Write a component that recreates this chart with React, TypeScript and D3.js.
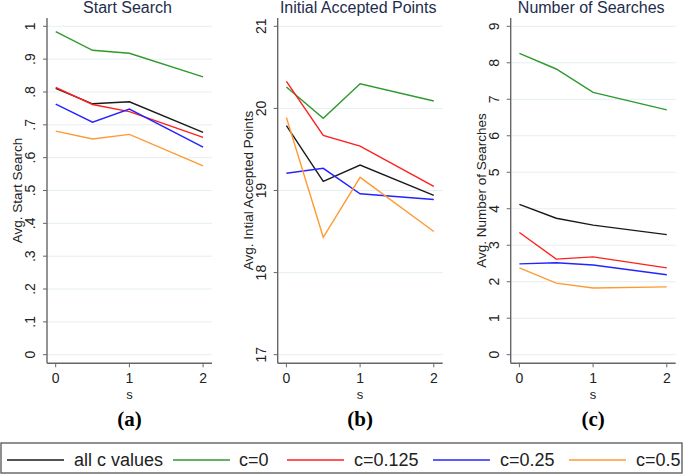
import React from "react";
import * as d3 from "d3";

const sValues = [0, 0.5, 1, 2];
const seriesNames = ["all c values", "c=0", "c=0.125", "c=0.25", "c=0.5"];
const seriesColors = ["#1a1a1a", "#2e9a2e", "#ff1f1f", "#2424ff", "#ff9a33"];

// Panel (a) Start Search
const startAll = [0.811, 0.764, 0.77, 0.677];
const startC0 = [0.984, 0.927, 0.918, 0.846];
const startC125 = [0.814, 0.762, 0.74, 0.662];
const startC25 = [0.763, 0.708, 0.748, 0.632];
const startC5 = [0.681, 0.657, 0.671, 0.575];
const startTicks = [0, 0.1, 0.2, 0.3, 0.4, 0.5, 0.6, 0.7, 0.8, 0.9, 1];
const startTickLabels = ["0", ".1", ".2", ".3", ".4", ".5", ".6", ".7", ".8", ".9", "1"];

// Panel (b) Initial Accepted Points
const pointsAll = [19.79, 19.11, 19.31, 18.94];
const pointsC0 = [20.26, 19.88, 20.3, 20.09];
const pointsC125 = [20.33, 19.67, 19.54, 19.05];
const pointsC25 = [19.21, 19.27, 18.96, 18.89];
const pointsC5 = [19.89, 18.43, 19.16, 18.5];
const pointsTicks = [17, 18, 19, 20, 21];
const pointsTickLabels = ["17", "18", "19", "20", "21"];

// Panel (c) Number of Searches
const searchAll = [4.12, 3.74, 3.55, 3.29];
const searchC0 = [8.26, 7.83, 7.19, 6.71];
const searchC125 = [3.35, 2.62, 2.68, 2.38];
const searchC25 = [2.49, 2.52, 2.46, 2.19];
const searchC5 = [2.38, 1.96, 1.83, 1.86];
const searchTicks = [0, 1, 2, 3, 4, 5, 6, 7, 8, 9];
const searchTickLabels = ["0", "1", "2", "3", "4", "5", "6", "7", "8", "9"];

const xTicks = [0, 1, 2];

const panels = [
  {
    title: "Start Search",
    yTitle: "Avg. Start Search",
    letter: "(a)",
    axisX: 47,
    domain: [0, 1],
    ticks: startTicks,
    tickLabels: startTickLabels,
    series: [startAll, startC0, startC125, startC25, startC5],
  },
  {
    title: "Initial Accepted Points",
    yTitle: "Avg. Intial Accepted Points",
    letter: "(b)",
    axisX: 277.7,
    domain: [17, 21],
    ticks: pointsTicks,
    tickLabels: pointsTickLabels,
    series: [pointsAll, pointsC0, pointsC125, pointsC25, pointsC5],
  },
  {
    title: "Number of Searches",
    yTitle: "Avg. Number of Searches",
    letter: "(c)",
    axisX: 510.7,
    domain: [0, 9],
    ticks: searchTicks,
    tickLabels: searchTickLabels,
    series: [searchAll, searchC0, searchC125, searchC25, searchC5],
  },
];

const FONT = "'Liberation Sans', Arial, sans-serif";
const TOP = 18;
const AXIS_Y = 363.3;
const Y_HI = 26.3;
const Y_LO = 354.7;
const PLOT_W = 165;

function Panel({ p }: { p: (typeof panels)[number] }) {
  const x = d3.scaleLinear().domain([0, 2]).range([p.axisX + 8.7, p.axisX + 8.7 + 147.4]);
  const y = d3.scaleLinear().domain(p.domain).range([Y_LO, Y_HI]);
  const line = d3
    .line<number>()
    .x((_, i) => x(sValues[i]))
    .y((d) => y(d));
  const right = p.axisX + PLOT_W;
  const midX = (p.axisX + right) / 2;
  const midY = (Y_HI + Y_LO) / 2;
  return (
    <g>
      <text x={midX - 2} y={13} textAnchor="middle" fontSize={16} fill="#1e2d4c" fontFamily={FONT}>
        {p.title}
      </text>
      {p.ticks.map((t) => (
        <line key={"g" + t} x1={p.axisX} x2={right} y1={y(t)} y2={y(t)} stroke="#e6eff1" strokeWidth={1} />
      ))}
      {p.series.map((s, i) => (
        <path key={"s" + i} d={line(s) || ""} fill="none" stroke={seriesColors[i]} strokeWidth={1.4} />
      ))}
      <line x1={p.axisX} x2={p.axisX} y1={TOP} y2={AXIS_Y} stroke="#666" strokeWidth={1.4} />
      <line x1={p.axisX} x2={right} y1={AXIS_Y} y2={AXIS_Y} stroke="#666" strokeWidth={1.4} />
      {p.ticks.map((t, i) => (
        <g key={"t" + t}>
          <line x1={p.axisX - 4} x2={p.axisX} y1={y(t)} y2={y(t)} stroke="#666" strokeWidth={1} />
          <text
            transform={`translate(${p.axisX - 12},${y(t)}) rotate(-90)`}
            textAnchor="middle"
            fontSize={14}
            fill="#222"
            fontFamily={FONT}
          >
            {p.tickLabels[i]}
          </text>
        </g>
      ))}
      {xTicks.map((t) => (
        <g key={"x" + t}>
          <line x1={x(t)} x2={x(t)} y1={AXIS_Y} y2={AXIS_Y + 4} stroke="#666" strokeWidth={1} />
          <text x={x(t)} y={383} textAnchor="middle" fontSize={14} fill="#222" fontFamily={FONT}>
            {t}
          </text>
        </g>
      ))}
      <text x={x(1)} y={399} textAnchor="middle" fontSize={13} fill="#222" fontFamily={FONT}>
        s
      </text>
      <text
        transform={`translate(${p.axisX - 25},${midY}) rotate(-90)`}
        textAnchor="middle"
        fontSize={13.5}
        fill="#222"
        fontFamily={FONT}
      >
        {p.yTitle}
      </text>
      <text
        x={x(1)}
        y={426}
        textAnchor="middle"
        fontSize={21}
        fontWeight="bold"
        fill="#000"
        fontFamily="'Liberation Serif', 'Times New Roman', serif"
      >
        {p.letter}
      </text>
    </g>
  );
}

const legendLineX = [7, 173, 287, 433, 569];
const legendTextX = [74, 239, 354, 500, 636];

export default function App() {
  return (
    <svg
      width={685}
      height={476}
      style={{ position: "absolute", left: 0, top: 0, background: "#fff" }}
    >
      <rect x={0} y={0} width={685} height={476} fill="#fff" />
      {panels.map((p, i) => (
        <Panel key={i} p={p} />
      ))}
      <rect x={1} y={443} width={681} height={30} fill="none" stroke="#555" strokeWidth={1.3} />
      {seriesNames.map((n, i) => (
        <g key={n}>
          <line
            x1={legendLineX[i]}
            x2={legendLineX[i] + 57}
            y1={460}
            y2={460}
            stroke={seriesColors[i]}
            strokeWidth={1.5}
          />
          <text x={legendTextX[i]} y={466} fontSize={18} fill="#222" fontFamily={FONT}>
            {n}
          </text>
        </g>
      ))}
    </svg>
  );
}
